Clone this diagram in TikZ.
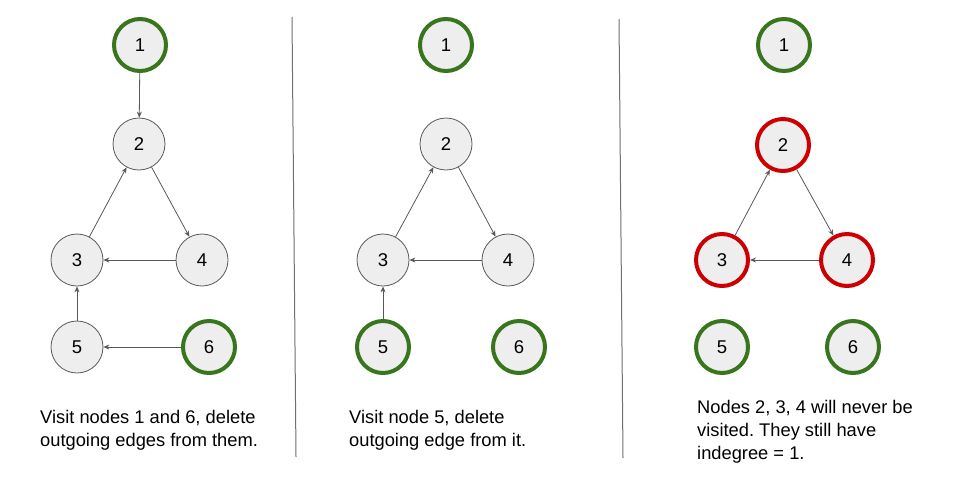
\documentclass[tikz,border=0pt]{standalone}
\usepackage{fontspec}
\setmainfont{Liberation Sans}
\usetikzlibrary{arrows.meta}
\frenchspacing
\definecolor{nodefill}{HTML}{EEEEEE}
\definecolor{edgegray}{HTML}{595959}
\definecolor{visitgreen}{HTML}{38761D}
\definecolor{cyclered}{HTML}{CC0000}
\definecolor{divgray}{HTML}{707070}
\begin{document}
\begin{tikzpicture}[x=1pt,y=-1pt,
  vtx/.style={circle,draw=edgegray,line width=0.8pt,fill=nodefill,minimum size=52pt,inner sep=0pt,font=\fontsize{18.5}{22}\selectfont},
  visited/.style={vtx,draw=visitgreen,line width=4pt},
  stuck/.style={vtx,draw=cyclered,line width=4pt},
  link/.style={draw=edgegray,line width=0.8pt,-{Stealth[length=6pt,width=5pt]}},
  caption/.style={anchor=north west,align=left,inner sep=0pt,font=\fontsize{18.3}{22.8}\selectfont},
  divider/.style={draw=divgray,line width=1pt}]
\useasboundingbox (0,0) rectangle (960,480);
\fill[white] (0,0) rectangle (960,480);

% dividers
\coordinate (d1t) at (292,17);
\coordinate (d1b) at (296,457);
\coordinate (d2t) at (619,19);
\coordinate (d2b) at (623,458);
\draw[divider] (d1t) -- (d1b);
\draw[divider] (d2t) -- (d2b);

% panel 1
\node[visited] (a1) at (140,45) {1};
\node[vtx] (a2) at (139,144) {2};
\node[vtx] (a3) at (77,260) {3};
\node[vtx] (a4) at (202,260) {4};
\node[vtx] (a5) at (77,347) {5};
\node[visited] (a6) at (209,347) {6};
\draw[link] (a1) -- (a2);
\draw[link] (a3) -- (a2);
\draw[link] (a2) -- (a4);
\draw[link] (a4) -- (a3);
\draw[link] (a5) -- (a3);
\draw[link] (a6) -- (a5);
\node[caption] (c1) at (40,410.5) {Visit nodes 1 and 6, delete\\outgoing edges from them.};

% panel 2
\node[visited] (b1) at (446,45) {1};
\node[vtx] (b2) at (446,144) {2};
\node[vtx] (b3) at (383,260) {3};
\node[vtx] (b4) at (508,260) {4};
\node[visited] (b5) at (383,347) {5};
\node[visited] (b6) at (519,347) {6};
\draw[link] (b3) -- (b2);
\draw[link] (b2) -- (b4);
\draw[link] (b4) -- (b3);
\draw[link] (b5) -- (b3);
\node[caption] (c2) at (349,410.5) {Visit node 5, delete\\outgoing edge from it.};

% panel 3
\node[visited] (e1) at (784,45) {1};
\node[stuck] (e2) at (783,145) {2};
\node[stuck] (e3) at (722,260) {3};
\node[stuck] (e4) at (847,260) {4};
\node[visited] (e5) at (722,347) {5};
\node[visited] (e6) at (853,347) {6};
\draw[link] (e3) -- (e2);
\draw[link] (e2) -- (e4);
\draw[link] (e4) -- (e3);
\node[caption] (c3) at (697,400.5) {Nodes 2, 3, 4 will never be\\visited. They still have\\indegree = 1.};
\end{tikzpicture}
\end{document}
